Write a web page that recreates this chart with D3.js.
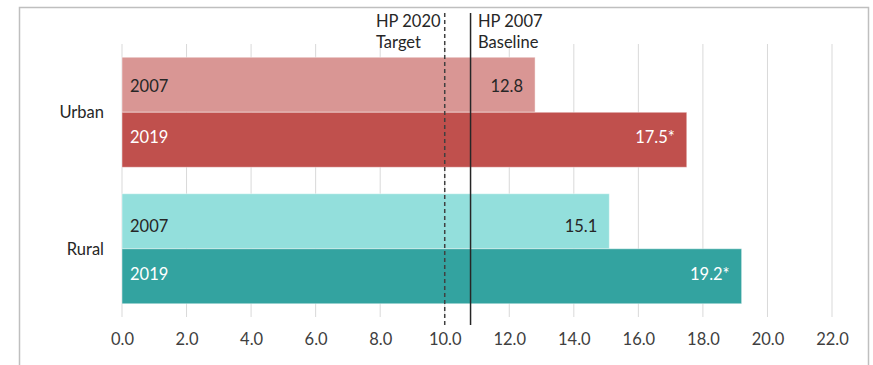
<!DOCTYPE html>
<html><head><meta charset="utf-8">
<script src="https://cdn.jsdelivr.net/npm/d3@7"></script>
<style>
html,body{margin:0;padding:0;background:#fff;}
svg{display:block;font-family:Lato,"Open Sans",sans-serif;}
</style></head>
<body><svg id="chart" width="873" height="365"></svg>
<script>
const categories = ["Urban", "Rural"];
const years = ["2007", "2019"];
const urbanValues = [12.8, 17.5];
const ruralValues = [15.1, 19.2];
const valueLabels = [["12.8", "17.5*"], ["15.1", "19.2*"]];
const tickValues = [0, 2, 4, 6, 8, 10, 12, 14, 16, 18, 20, 22];
const refLines = [
  {value: 10.0, label: ["HP 2020", "Target"], dashed: true},
  {value: 10.8, label: ["HP 2007", "Baseline"], dashed: false}
];
const colors = [["#D99694", "#C0504D"], ["#93DFDC", "#33A3A0"]];
const textColors = ["#262626", "#ffffff"];

const seriesValues = [urbanValues, ruralValues];
const svg = d3.select("#chart");
const fontSize = "16.5px";

// frame
svg.append("rect").attr("x", 19.5).attr("y", 7.5).attr("width", 849).attr("height", 400)
  .attr("fill", "#fff").attr("stroke", "#BFBFBF").attr("stroke-width", 1.5);

const x = d3.scaleLinear().domain([0, 22]).range([122, 832]);
const y = d3.scaleBand().domain(categories).range([44, 317]).paddingInner(0.194).paddingOuter(0.097);
const ySub = d3.scaleBand().domain(years).range([0, y.bandwidth()]);
const labelShift = [[1, -3], [5, -2]];

// gridlines
svg.append("g").selectAll("line").data(tickValues).join("line")
  .attr("x1", d => x(d)).attr("x2", d => x(d))
  .attr("y1", 44).attr("y2", 317)
  .attr("stroke", "#D9D9D9").attr("stroke-width", 1);

// tick labels
const axis = d3.axisBottom(x).tickValues(tickValues).tickFormat(d3.format(".1f")).tickSize(0).tickPadding(0);
const ax = svg.append("g").attr("transform", "translate(0,333)").call(axis);
ax.select(".domain").remove();
ax.selectAll("text").attr("font-size", fontSize).attr("font-family", "Lato").attr("fill", "#404040");

// bars
categories.forEach((cat, ci) => {
  const g = svg.append("g").attr("transform", `translate(0,${y(cat)})`);
  years.forEach((yr, yi) => {
    const v = seriesValues[ci][yi];
    const cy = ySub(yr) + ySub.bandwidth() / 2 + labelShift[ci][yi];
    g.append("rect")
      .attr("x", x(0)).attr("y", ySub(yr))
      .attr("width", x(v) - x(0)).attr("height", ySub.bandwidth())
      .attr("fill", colors[ci][yi])
      .attr("stroke", "rgba(255,255,255,0.45)").attr("stroke-width", 1);
    g.append("text")
      .attr("x", x(0) + 8).attr("y", cy)
      .attr("dy", "0.35em").attr("font-size", fontSize).attr("fill", textColors[yi])
      .text(yr);
    g.append("text")
      .attr("x", x(v) - 12).attr("y", cy)
      .attr("dy", "0.35em").attr("text-anchor", "end").attr("font-size", fontSize)
      .attr("fill", textColors[yi]).text(valueLabels[ci][yi]);
  });
  svg.append("text")
    .attr("x", 104).attr("y", y(cat) + y.bandwidth() / 2)
    .attr("dy", "0.35em").attr("text-anchor", "end").attr("font-size", fontSize)
    .attr("fill", "#262626").text(cat);
});

// reference lines
refLines.forEach(r => {
  svg.append("line")
    .attr("x1", x(r.value)).attr("x2", x(r.value))
    .attr("y1", 13).attr("y2", 325)
    .attr("stroke", r.dashed ? "#404040" : "#262626")
    .attr("stroke-width", 1.5)
    .attr("stroke-dasharray", r.dashed ? "4,3" : null);
});
// ref labels
const refLabelX = [376, 478];
refLines.forEach((r, i) => {
  const t = svg.append("text").attr("font-size", fontSize).attr("fill", "#262626");
  r.label.forEach((line, li) => {
    t.append("tspan").attr("x", refLabelX[i]).attr("y", 27 + li * 21).text(line);
  });
});
</script>
</body></html>
